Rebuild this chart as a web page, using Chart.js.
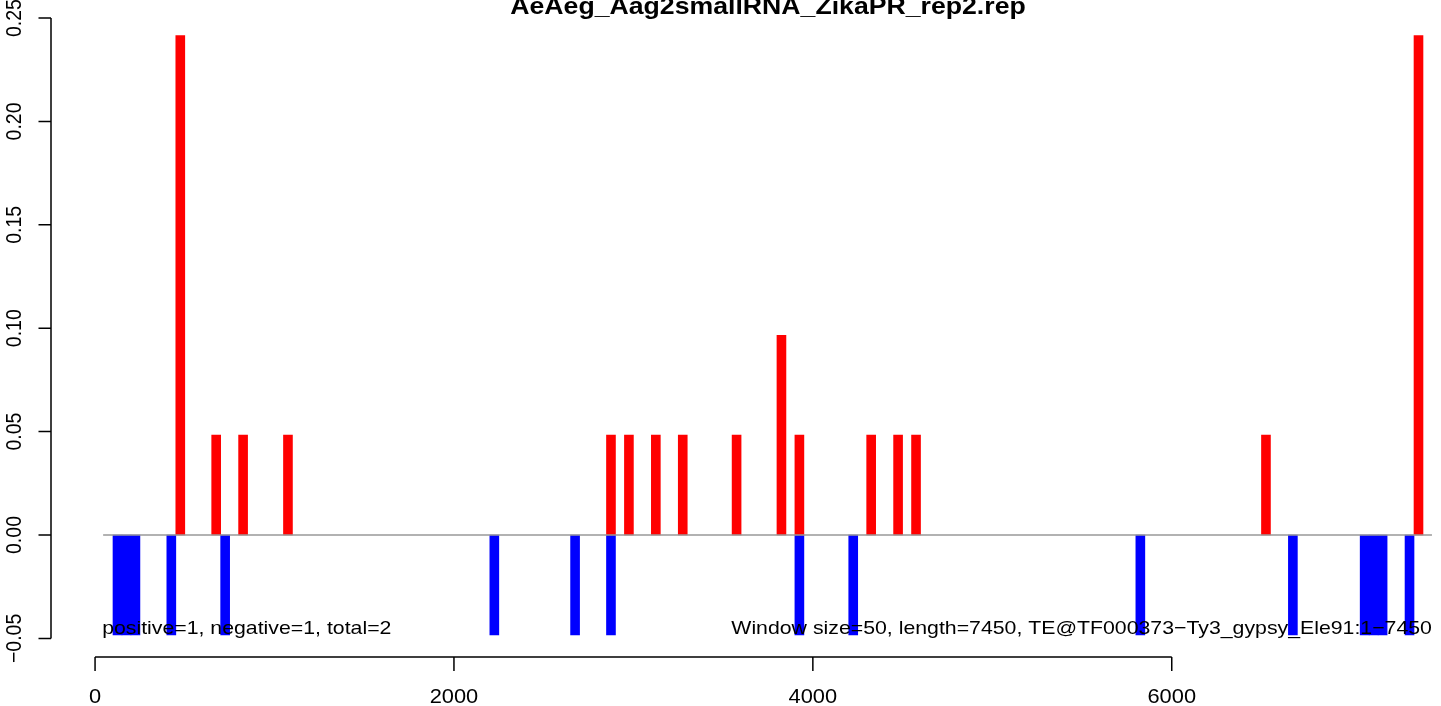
<!DOCTYPE html>
<html lang="en">
<head>
    <meta charset="UTF-8">
    <title>AeAeg_Aag2smallRNA_ZikaPR_rep2.rep</title>
    <style>
        body {
            margin: 0;
            background-color: #fff;
        }
        #chart {
            display: block;
        }
    </style>
    <script src="https://cdn.jsdelivr.net/npm/chart.js"></script>
</head>
<body>
    <canvas id="chart" width="1441" height="706"></canvas>

    <script>
        // window starts (bp) and normalised counts
        const windowSize = 50;
        const posStarts = [450, 650, 800, 1050, 2850, 2950, 3100, 3250, 3550, 3800, 3900, 4300, 4450, 4550, 6500, 7350];
        const posValues = [0.2415, 0.0483, 0.0483, 0.0483, 0.0483, 0.0483, 0.0483, 0.0483, 0.0483, 0.0966, 0.0483, 0.0483, 0.0483, 0.0483, 0.0483, 0.2415];
        const negStarts = [100, 150, 200, 400, 700, 2200, 2650, 2850, 3900, 4200, 5800, 6650, 7050, 7100, 7150, 7300];
        const negValues = [-0.0483, -0.0483, -0.0483, -0.0483, -0.0483, -0.0483, -0.0483, -0.0483, -0.0483, -0.0483, -0.0483, -0.0483, -0.0483, -0.0483, -0.0483, -0.0483];

        const baselineRange = [45, 7450];
        const xTickValues = [0, 2000, 4000, 6000];
        const xTickLabels = ['0', '2000', '4000', '6000'];
        const yTickValues = [-0.05, 0, 0.05, 0.10, 0.15, 0.20, 0.25];
        const yTickLabels = ['\u22120.05', '0.00', '0.05', '0.10', '0.15', '0.20', '0.25'];

        const titleText = 'AeAeg_Aag2smallRNA_ZikaPR_rep2.rep';
        const leftNote = 'positive=1, negative=1, total=2';
        const rightNote = 'Window size=50, length=7450, TE@TF000373\u2212Ty3_gypsy_Ele91:1\u22127450';

        const FONT = '"Liberation Sans", Arial, Helvetica, sans-serif';
        const SX = 1.12; // the reference is a little stretched sideways

        function drawText(ctx, text, x, y, font, align, baseline, rotate) {
            ctx.save();
            ctx.translate(x, y);
            ctx.scale(SX, 1);
            if (rotate) ctx.rotate(-Math.PI / 2);
            ctx.font = font;
            ctx.fillStyle = '#000';
            ctx.textAlign = align;
            ctx.textBaseline = baseline;
            ctx.fillText(text, 0, 0);
            ctx.restore();
        }

        // R style axes, title and notes
        const rDecorations = {
            id: 'rDecorations',
            afterDraw(chart) {
                const ctx = chart.ctx;
                const xs = chart.scales.x;
                const ys = chart.scales.y;
                const area = chart.chartArea;

                ctx.save();
                ctx.strokeStyle = '#000';
                ctx.lineWidth = 1.5;

                // y axis
                const ax = area.left;
                ctx.beginPath();
                ctx.moveTo(ax, ys.getPixelForValue(yTickValues[0]));
                ctx.lineTo(ax, ys.getPixelForValue(yTickValues[yTickValues.length - 1]));
                yTickValues.forEach(v => {
                    const py = ys.getPixelForValue(v);
                    ctx.moveTo(ax - 12.5, py);
                    ctx.lineTo(ax, py);
                });
                ctx.stroke();
                yTickValues.forEach((v, i) => {
                    drawText(ctx, yTickLabels[i], ax - 30, ys.getPixelForValue(v), '19.5px ' + FONT, 'center', 'alphabetic', true);
                });

                // x axis
                const ay = area.bottom;
                ctx.beginPath();
                ctx.moveTo(xs.getPixelForValue(xTickValues[0]), ay);
                ctx.lineTo(xs.getPixelForValue(xTickValues[xTickValues.length - 1]), ay);
                xTickValues.forEach(v => {
                    const px = xs.getPixelForValue(v);
                    ctx.moveTo(px, ay);
                    ctx.lineTo(px, ay + 14);
                });
                ctx.stroke();
                xTickValues.forEach((v, i) => {
                    drawText(ctx, xTickLabels[i], xs.getPixelForValue(v), ay + 46, '19.5px ' + FONT, 'center', 'alphabetic', false);
                });
                ctx.restore();

                // title, cut by the top edge as in the reference
                drawText(ctx, titleText, 768, 13.5, 'bold 23.8px ' + FONT, 'center', 'alphabetic', false);

                // notes along the bottom of the bars
                const noteY = ys.getPixelForValue(-0.0478);
                drawText(ctx, leftNote, xs.getPixelForValue(baselineRange[0]) - 1, noteY, '19px ' + FONT, 'left', 'alphabetic', false);
                drawText(ctx, rightNote, xs.getPixelForValue(baselineRange[1]), noteY, '19px ' + FONT, 'right', 'alphabetic', false);
            }
        };

        const barStyle = {
            borderWidth: 0,
            grouped: false,
            barPercentage: 1,
            categoryPercentage: 1,
            order: 1
        };

        const chart = new Chart(document.getElementById('chart').getContext('2d'), {
            type: 'bar',
            data: {
                datasets: [
                    Object.assign({
                        label: 'positive',
                        data: posStarts.map((s, i) => ({ x: s + windowSize / 2, y: posValues[i] })),
                        backgroundColor: '#ff0000'
                    }, barStyle),
                    Object.assign({
                        label: 'negative',
                        data: negStarts.map((s, i) => ({ x: s + windowSize / 2, y: negValues[i] })),
                        backgroundColor: '#0000ff'
                    }, barStyle),
                    {
                        type: 'line',
                        label: 'zero',
                        data: baselineRange.map(x => ({ x: x, y: 0 })),
                        borderColor: '#999999',
                        borderWidth: 1.5,
                        pointRadius: 0,
                        fill: false,
                        order: 0
                    }
                ]
            },
            options: {
                responsive: false,
                animation: false,
                devicePixelRatio: 1,
                layout: { padding: { left: 51, right: 0, top: 11, bottom: 49 } },
                scales: {
                    x: { type: 'linear', min: -245.5, max: 7500.4, offset: false, display: false },
                    y: { type: 'linear', min: -0.059, max: 0.2534, display: false }
                },
                plugins: {
                    legend: { display: false },
                    tooltip: { enabled: false },
                    title: { display: false }
                }
            },
            plugins: [rDecorations]
        });
    </script>
</body>
</html>
